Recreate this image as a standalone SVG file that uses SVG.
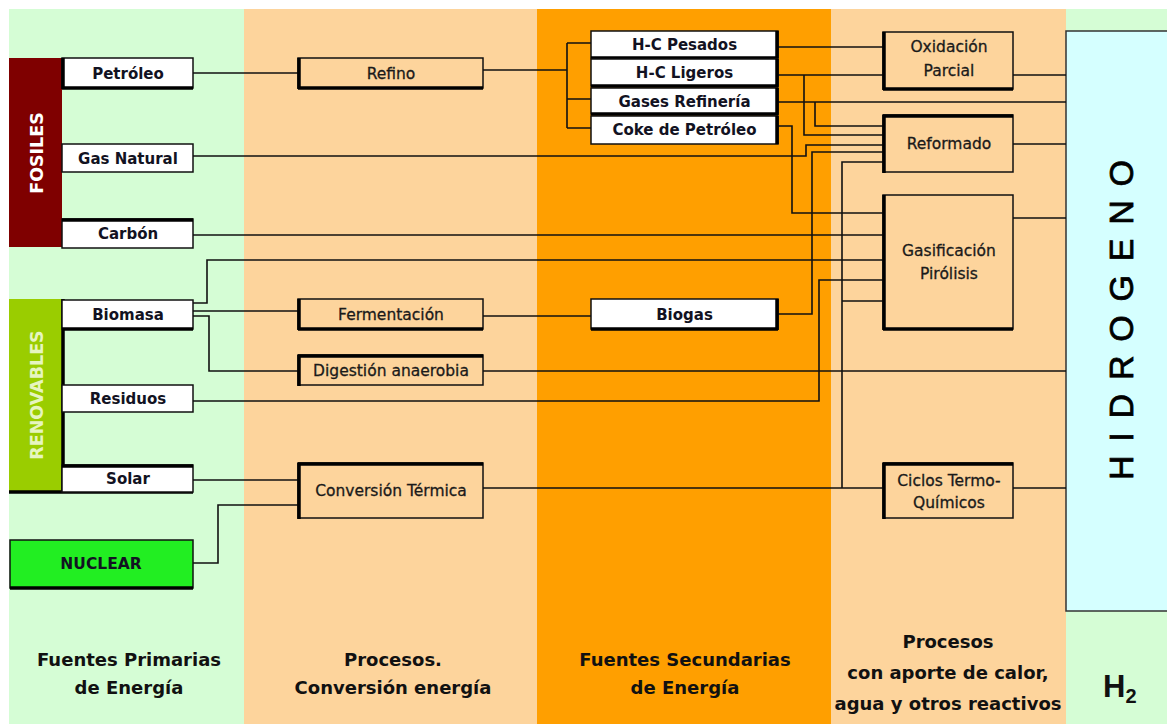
<svg xmlns="http://www.w3.org/2000/svg" width="1167" height="724" viewBox="0 0 1167 724">
<style>
.conn{fill:none;stroke:#111;stroke-width:1.6}
.box{stroke:#111;stroke-width:1.5}
.thk{stroke:#000;stroke-width:3.5;fill:none}
.wl{font-family:"DejaVu Sans","Liberation Sans",sans-serif;font-size:15px;font-weight:bold;fill:#121222;text-anchor:middle}
.pl{font-family:"DejaVu Sans","Liberation Sans",sans-serif;font-size:15.5px;fill:#1a1a1a;stroke:#1a1a1a;stroke-width:0.3;text-anchor:middle}
.ft{font-family:"DejaVu Sans","Liberation Sans",sans-serif;font-size:18px;font-weight:bold;fill:#111;text-anchor:middle}
.vt{font-family:"DejaVu Sans","Liberation Sans",sans-serif;font-size:17.5px;font-weight:bold;text-anchor:middle}
</style>
<rect width="1167" height="724" fill="#fff"/>
<g id="columns">
<rect x="9" y="9" width="235" height="715" fill="#D5FDD5"/>
<rect x="244" y="9" width="293" height="715" fill="#FDD49C"/>
<rect x="537" y="9" width="294" height="715" fill="#FF9F00"/>
<rect x="831" y="9" width="235" height="715" fill="#FDD49C"/>
<rect x="1066" y="9" width="101" height="715" fill="#D5FDD5"/>
</g>
<g id="hidrogeno">
<rect x="1066" y="31" width="110" height="580" fill="#D5FFFF" stroke="#333" stroke-width="1.5"/>
<text transform="translate(1133,480) rotate(-90)" font-family="'Liberation Sans',Arial,sans-serif" font-size="34" fill="#000" stroke="#000" stroke-width="0.8" textLength="320" lengthAdjust="spacing">HIDROGENO</text>
</g>
<g id="connectors" class="conn">
<path d="M193,73H298"/>
<path d="M483,70H567M567,43V128M567,43H591M567,99H591M567,128H591"/>
<path d="M778,47H883"/>
<path d="M778,75H883M804,75V135H883"/>
<path d="M778,102H1066M815,102V126H883"/>
<path d="M778,126H792V213H883"/>
<path d="M193,156H806V145H883"/>
<path d="M778,314H812V152H883"/>
<path d="M483,488H883M842,488V162H883M842,301H883"/>
<path d="M193,235H883"/>
<path d="M193,303H207V260H883"/>
<path d="M193,311H298"/>
<path d="M193,316H209V371H298"/>
<path d="M483,316H591"/>
<path d="M483,371H1066"/>
<path d="M193,401H819V280H883"/>
<path d="M193,480H298"/>
<path d="M193,563H218V505H298"/>
<path d="M1013,75H1066M1013,144H1066M1013,218H1066M1013,488H1066"/>
</g>
<g id="fosiles">
<rect x="9" y="58" width="53" height="189" fill="#7F0000"/>
<text class="vt" transform="translate(43,153) rotate(-90)" fill="#fff">FOSILES</text>
</g>
<g id="renovables">
<rect x="9" y="299" width="53" height="193" fill="#9ACD00"/>
<text class="vt" transform="translate(43,395) rotate(-90)" fill="#E6F5C0">RENOVABLES</text>
<path class="thk" d="M63,299V493M9,492H193"/>
</g>
<g id="petroleo">
<rect class="box" x="62" y="58" width="131" height="30" fill="#fff"/>
<path class="thk" d="M63,58V89M62,88H193"/>
<text class="wl" x="128" y="78.5">Petróleo</text>
</g>
<g id="gas-natural">
<rect class="box" x="62" y="144" width="131" height="28" fill="#fff"/>
<text class="wl" x="128" y="163.5">Gas Natural</text>
</g>
<g id="carbon">
<rect class="box" x="62" y="219" width="131" height="29" fill="#fff"/>
<path class="thk" d="M62,220H193"/>
<text class="wl" x="128" y="239">Carbón</text>
</g>
<g id="biomasa">
<rect class="box" x="62" y="300" width="131" height="29" fill="#fff"/>
<path class="thk" d="M62,329H193"/>
<text class="wl" x="128" y="320">Biomasa</text>
</g>
<g id="residuos">
<rect class="box" x="62" y="385" width="131" height="27" fill="#fff"/>
<text class="wl" x="128" y="404">Residuos</text>
</g>
<g id="solar">
<rect class="box" x="62" y="465" width="131" height="27" fill="#fff"/>
<path class="thk" d="M62,466H193"/>
<text class="wl" x="128" y="484">Solar</text>
</g>
<g id="nuclear">
<rect class="box" x="10" y="540" width="183" height="48" fill="#22EE22"/>
<path class="thk" d="M10,588H193"/>
<text class="wl" x="101" y="569" style="font-size:15.5px">NUCLEAR</text>
</g>
<g id="refino">
<rect class="box" x="298" y="58" width="185" height="30" fill="none"/>
<path class="thk" d="M299,58V89M298,88H483"/>
<text class="pl" x="391" y="78.5">Refino</text>
</g>
<g id="fermentacion">
<rect class="box" x="298" y="299" width="185" height="30" fill="none"/>
<path class="thk" d="M299,299V330M298,329H483"/>
<text class="pl" x="391" y="319.5">Fermentación</text>
</g>
<g id="digestion">
<rect class="box" x="298" y="355" width="185" height="30" fill="none"/>
<path class="thk" d="M299,355V386M298,356H483"/>
<text class="pl" x="391" y="375.5">Digestión anaerobia</text>
</g>
<g id="conversion">
<rect class="box" x="298" y="463" width="185" height="55" fill="none"/>
<path class="thk" d="M299,463V519M298,464H483"/>
<text class="pl" x="391" y="496">Conversión Térmica</text>
</g>
<g id="hc-pesados">
<rect class="box" x="591" y="31" width="187" height="27" fill="#fff"/>
<path class="thk" d="M777,31V58M591,58H778"/>
<text class="wl" x="684.5" y="50">H-C Pesados</text>
</g>
<g id="hc-ligeros">
<rect class="box" x="591" y="59" width="187" height="27" fill="#fff"/>
<path class="thk" d="M777,59V87M591,86H778"/>
<text class="wl" x="684.5" y="78">H-C Ligeros</text>
</g>
<g id="gases-refineria">
<rect class="box" x="591" y="88" width="187" height="26" fill="#fff"/>
<path class="thk" d="M777,88V115M591,114H778"/>
<text class="wl" x="684.5" y="106.5">Gases Refinería</text>
</g>
<g id="coke">
<rect class="box" x="591" y="116" width="187" height="28" fill="#fff"/>
<path class="thk" d="M777,116V144"/>
<text class="wl" x="684.5" y="135">Coke de Petróleo</text>
</g>
<g id="biogas">
<rect class="box" x="591" y="299" width="187" height="30" fill="#fff"/>
<path class="thk" d="M777,299V330M591,329H778"/>
<text class="wl" x="684.5" y="319.5">Biogas</text>
</g>
<g id="oxidacion">
<rect class="box" x="883" y="32" width="130" height="57" fill="none"/>
<path class="thk" d="M884,32V90M883,89H1013"/>
<text class="pl" x="949" y="52">Oxidación</text>
<text class="pl" x="949" y="76">Parcial</text>
</g>
<g id="reformado">
<rect class="box" x="883" y="115" width="130" height="57" fill="none"/>
<path class="thk" d="M884,115V173M883,116H1013"/>
<text class="pl" x="949" y="149">Reformado</text>
</g>
<g id="gasificacion">
<rect class="box" x="883" y="195" width="130" height="134" fill="none"/>
<path class="thk" d="M884,195V330M883,329H1013"/>
<text class="pl" x="949" y="256">Gasificación</text>
<text class="pl" x="949" y="279">Pirólisis</text>
</g>
<g id="ciclos">
<rect class="box" x="883" y="463" width="130" height="55" fill="none"/>
<path class="thk" d="M884,463V519M883,464H1013"/>
<text class="pl" x="949" y="486">Ciclos Termo-</text>
<text class="pl" x="949" y="508">Químicos</text>
</g>
<g id="footer">
<text class="ft" x="129" y="666">Fuentes Primarias</text>
<text class="ft" x="129" y="694">de Energía</text>
<text class="ft" x="393" y="666">Procesos.</text>
<text class="ft" x="393" y="694">Conversión energía</text>
<text class="ft" x="685" y="666">Fuentes Secundarias</text>
<text class="ft" x="685" y="694">de Energía</text>
<text class="ft" x="948" y="648">Procesos</text>
<text class="ft" x="948" y="679">con aporte de calor,</text>
<text class="ft" x="948" y="710">agua y otros reactivos</text>
<text x="1103" y="697" font-family="'Liberation Sans',Arial,sans-serif" font-size="31" font-weight="bold" fill="#111">H<tspan font-size="20" dy="6">2</tspan></text>
</g>
</svg>
